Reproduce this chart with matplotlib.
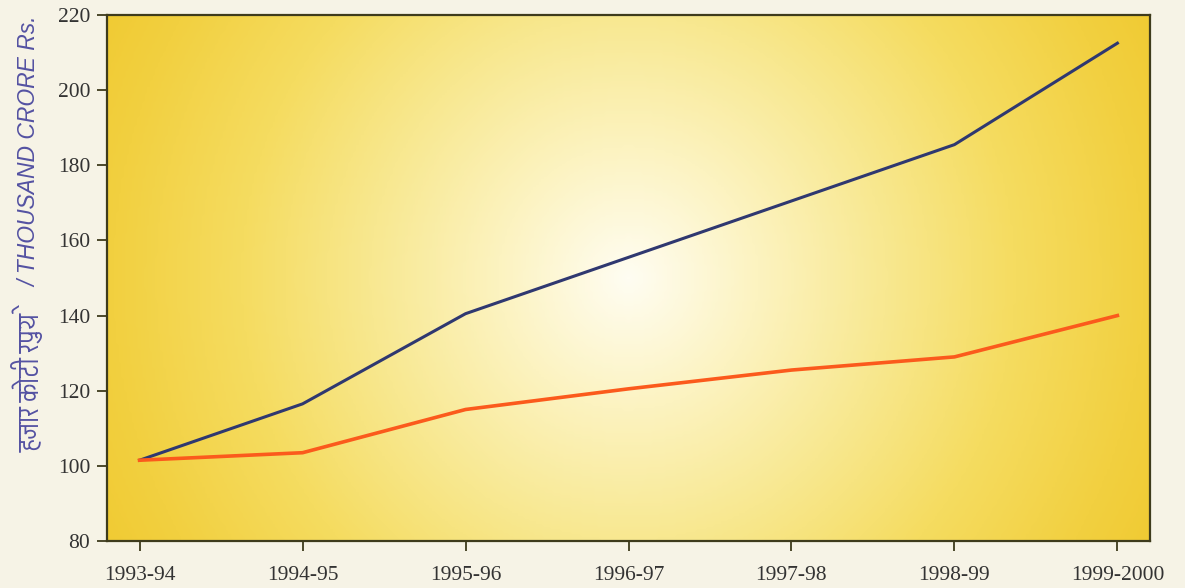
import numpy as np
import matplotlib
matplotlib.use("Agg")
import matplotlib.pyplot as plt
from matplotlib import font_manager as fm
from matplotlib.ft2font import FT2Font
from matplotlib.colors import LinearSegmentedColormap

# ---- data ----
years = ["1993-94", "1994-95", "1995-96", "1996-97", "1997-98", "1998-99", "1999-2000"]
series_blue = [101.5, 116.5, 140.5, 155.5, 170.5, 185.5, 212.5]
series_orange = [101.5, 103.5, 115.0, 120.5, 125.5, 129.0, 140.0]
y_ticks = [80, 100, 120, 140, 160, 180, 200, 220]
ylabel_hindi = "हजार कोटी रुपये"
ylabel_english = "/ THOUSAND CRORE Rs."

# ---- find a Devanagari-capable font (prefer proportional ones) ----
cands = []
seen = set()
for f in fm.fontManager.ttflist:
    if f.fname in seen:
        continue
    seen.add(f.fname)
    try:
        cm = FT2Font(f.fname).get_charmap()
        if 0x0939 in cm and 0x0930 in cm:
            cands.append(f.name)
    except Exception:
        pass
cands.sort(key=lambda n: ("mono" in n.lower(), n))
deva = cands[0] if cands else None
hindi_family = ([deva] if deva else []) + ["Liberation Sans", "DejaVu Sans"]
eng_family = ["Liberation Sans", "DejaVu Sans"]

fig = plt.figure(figsize=(11.85, 5.88), dpi=100, facecolor="#f6f3e6")
ax = fig.add_axes([107/1185, 1-541/588, (1150-107)/1185, (541-15)/588])

# gradient background
nx, ny = 400, 200
xx, yy = np.meshgrid(np.linspace(0, 1, nx), np.linspace(1, 0, ny))
cx, cy = 0.50, 0.50
r = np.sqrt(((xx-cx)/0.62)**2 + ((yy-cy)/1.25)**2)
r = np.clip(r, 0, 1)
cmap = LinearSegmentedColormap.from_list(
    "g", ["#fffdf2", "#fcf3c0", "#f8e890", "#f5dc60", "#f2d040", "#efc628"])
ax.imshow(r, extent=[0, 1, 0, 1], transform=ax.transAxes, cmap=cmap, vmin=0, vmax=1,
          aspect="auto", zorder=0, interpolation="bilinear")

x = np.arange(len(years))
ax.plot(x, series_blue, color="#2f3870", lw=2.2, zorder=3, solid_joinstyle="round")
ax.plot(x, series_orange, color="#fb5a1c", lw=2.6, zorder=3, solid_joinstyle="round")

ax.set_xlim(-0.2, 6.2)
ax.set_ylim(80, 220)
ax.set_yticks(y_ticks)
ax.set_xticks(x)
ax.set_xticklabels(years)
for s in ax.spines.values():
    s.set_color("#3e3b1c")
    s.set_linewidth(1.6)
ax.tick_params(axis="both", direction="out", color="#3e3b1c", width=1.3, length=7,
               labelsize=15.5, labelcolor="#333333")
ax.tick_params(axis="x", pad=11)
ax.tick_params(axis="y", pad=5)
for lab in ax.get_xticklabels() + ax.get_yticklabels():
    lab.set_family("Liberation Serif")

fig.text(30/1185, 1-383/588, ylabel_hindi, rotation=90, ha="center", va="center",
         fontsize=21, color="#5452a2", family=hindi_family)
fig.text(30/1185, 1-152/588, ylabel_english, rotation=90, ha="center", va="center",
         fontsize=16.5, style="italic", color="#5452a2", family=eng_family)

fig.savefig("out.png", dpi=100, facecolor=fig.get_facecolor())
